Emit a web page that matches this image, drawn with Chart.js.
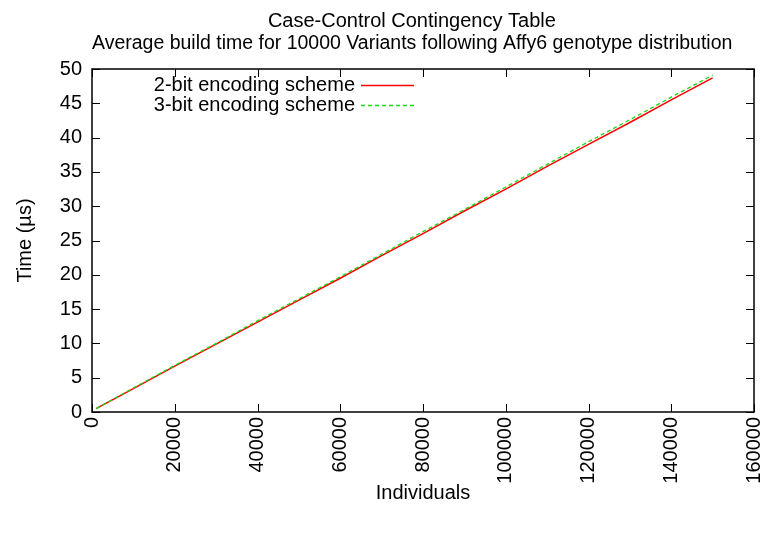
<!DOCTYPE html>
<html>
<head>
<meta charset="utf-8">
<script src="https://cdn.jsdelivr.net/npm/chart.js@4"></script>
<style>
  body { margin: 0; background: #fff; }
  #wrap { width: 762px; height: 533px; }
</style>
</head>
<body>
<div id="wrap"><canvas id="myChart"></canvas></div>
<script>
// datos
var individuos = [1000, 10000, 20000, 30000, 40000, 50000, 60000, 70000, 80000, 90000, 100000, 110000, 120000, 130000, 140000, 150000]
var tiempo_2bit = [0.5, 3.4, 6.7, 9.9, 13.1, 16.3, 19.5, 22.8, 26.0, 29.3, 32.5, 35.8, 39.0, 42.2, 45.5, 48.7]
var tiempo_3bit = [0.5, 3.5, 6.8, 10.0, 13.3, 16.5, 19.7, 23.0, 26.3, 29.5, 32.8, 36.1, 39.4, 42.6, 45.9, 49.1]
var nombres = ['2-bit encoding scheme', '3-bit encoding scheme']
var ticks_x = [0, 20000, 40000, 60000, 80000, 100000, 120000, 140000, 160000]
var ticks_y = [0, 5, 10, 15, 20, 25, 30, 35, 40, 45, 50]

var fuente = "'Liberation Sans', Arial, sans-serif"
var verde = 'rgb(20,220,20)'

function puntos(ys) {
    return individuos.map(function (x, i) { return { x: x, y: ys[i] } })
}

// marco completo y ticks hacia dentro, estilo gnuplot
var marco = {
    id: 'marco',
    afterDraw: function (chart) {
        var c = chart.ctx
        var a = chart.chartArea
        var sx = chart.scales.x
        var sy = chart.scales.y
        c.save()
        c.strokeStyle = '#000'
        c.lineWidth = 1.5
        c.strokeRect(a.left, a.top, a.right - a.left, a.bottom - a.top)
        c.lineWidth = 1
        c.beginPath()
        ticks_x.forEach(function (v) {
            var px = Math.round(sx.getPixelForValue(v)) + 0.5
            c.moveTo(px, a.bottom); c.lineTo(px, a.bottom - 8)
            c.moveTo(px, a.top); c.lineTo(px, a.top + 8)
        })
        ticks_y.forEach(function (v) {
            var py = Math.round(sy.getPixelForValue(v)) + 0.5
            c.moveTo(a.left, py); c.lineTo(a.left + 8, py)
            c.moveTo(a.right, py); c.lineTo(a.right - 8, py)
        })
        c.stroke()

        // leyenda
        c.font = '20px ' + fuente
        c.fillStyle = '#000'
        c.textAlign = 'right'
        c.textBaseline = 'middle'
        var estilos = [
            { color: 'rgb(255,0,0)', dash: [], ancho: 1.5 },
            { color: verde, dash: [4, 3], ancho: 1.3 }
        ]
        nombres.forEach(function (n, i) {
            var y = 85 + i * 20
            c.fillText(n, 355, y)
            c.strokeStyle = estilos[i].color
            c.lineWidth = estilos[i].ancho
            c.setLineDash(estilos[i].dash)
            c.beginPath()
            c.moveTo(361, y + 0.5)
            c.lineTo(414, y + 0.5)
            c.stroke()
        })
        c.restore()
    }
}

var ctx = document.getElementById("myChart").getContext("2d")
new Chart(ctx, {
    type: 'line',
    data: {
        datasets: [{
            label: nombres[0],
            data: puntos(tiempo_2bit),
            borderColor: 'rgb(255,0,0)',
            borderWidth: 1.5,
            pointRadius: 0,
            fill: false,
            order: 2
        }, {
            label: nombres[1],
            data: puntos(tiempo_3bit),
            borderColor: verde,
            borderWidth: 1.3,
            borderDash: [4, 3],
            pointRadius: 0,
            fill: false,
            order: 1
        }]
    },
    options: {
        responsive: true,
        maintainAspectRatio: false,
        animation: false,
        layout: { padding: { top: 0, right: 8, left: 0, bottom: 0 } },
        plugins: {
            legend: { display: false },
            tooltip: { enabled: false },
            title: {
                display: true,
                fullSize: false,
                text: ['Case-Control Contingency Table    ', 'Average build time for 10000 Variants following Affy6 genotype distribution    '],
                color: '#000',
                font: { family: fuente, size: 20, weight: 'normal', lineHeight: 1.1 },
                padding: { top: 10, bottom: 15 }
            }
        },
        scales: {
            x: {
                type: 'linear',
                min: 0,
                max: 160000,
                afterBuildTicks: function (s) { s.ticks = ticks_x.map(function (v) { return { value: v } }) },
                afterFit: function (s) { s.height = 121; s.paddingLeft = 0; s.paddingRight = 0 },
                grid: { display: false, drawTicks: false },
                border: { display: false },
                ticks: {
                    color: '#000',
                    font: { family: fuente, size: 20 },
                    minRotation: 90,
                    maxRotation: 90,
                    padding: 5,
                    callback: function (v) { return String(v) }
                },
                title: {
                    display: true,
                    text: 'Individuals',
                    color: '#000',
                    font: { family: fuente, size: 20, lineHeight: 1.2 },
                    padding: { top: 0, bottom: 28 }
                }
            },
            y: {
                min: 0,
                max: 50,
                afterBuildTicks: function (s) { s.ticks = ticks_y.map(function (v) { return { value: v } }) },
                afterFit: function (s) { s.width = 92; s.paddingTop = 0; s.paddingBottom = 0 },
                grid: { display: false, drawTicks: false },
                border: { display: false },
                ticks: {
                    color: '#000',
                    font: { family: fuente, size: 20 },
                    padding: 10
                },
                title: {
                    display: true,
                    text: 'Time (µs)',
                    color: '#000',
                    font: { family: fuente, size: 20, lineHeight: 1.2 },
                    padding: { top: 13, bottom: 0 }
                }
            }
        }
    },
    plugins: [marco]
})
</script>
</body>
</html>
